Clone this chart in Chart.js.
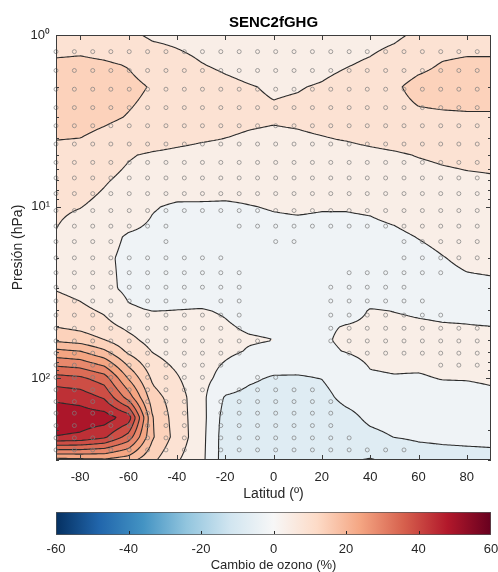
<!DOCTYPE html>
<html>
<head>
<meta charset="utf-8">
<title>SENC2fGHG</title>
<script src="https://cdn.jsdelivr.net/npm/chart.js@4.4.1/dist/chart.umd.min.js"></script>
<style>
  html, body { margin: 0; padding: 0; background: #fff; overflow: hidden; }
  canvas { display: block; }
</style>
</head>
<body>
<canvas id="ozoneChart" width="498" height="508"></canvas>
<canvas id="colorBar" width="498" height="64"></canvas>
<script>
const chartTitle = 'SENC2fGHG';

// campo de cambio de ozono (%) : filas = niveles de presion, columnas = latitudes
const gridLats = [-90, -80, -70, -60, -50, -40, -30, -20, -10, 0, 10, 20, 30, 40, 50, 60, 70, 80, 90];
const gridLevels = [1, 1.5, 2, 3, 4, 5, 7, 10, 15, 20, 30, 40, 50, 60, 70, 100, 130, 170, 220, 300];
const ozoneChange = [
  [7.5, 7.8, 7, 6, 4.2, 3.8, 3.2, 3, 2.8, 2.5, 2.6, 2.8, 3, 3.5, 4.2, 5.8, 7.3, 7.5, 7.5],
  [10.8, 11, 10.6, 9.8, 8, 6.5, 5.2, 4.3, 3.5, 3, 3.3, 4, 4.8, 5.6, 7, 8.8, 10.4, 11, 11],
  [12.5, 12.5, 12, 11, 9.7, 8.3, 7, 6, 5.2, 4.6, 4.8, 5.3, 6.3, 7.6, 9.3, 11.5, 12, 12.3, 12.3],
  [11.8, 11.5, 10.8, 9.8, 8.8, 7.8, 7, 6.3, 5.8, 5.5, 5.8, 6.4, 7.1, 7.8, 8.4, 9.2, 9.4, 9.5, 9.5],
  [10.2, 10, 9, 8, 7, 6.2, 5.5, 5, 4.5, 4.2, 4.4, 4.8, 5.3, 6, 6.6, 7.2, 7.6, 7.8, 7.8],
  [8.5, 7.8, 6.7, 5.3, 4.5, 4, 3.6, 3.3, 3, 2.8, 2.9, 3.2, 3.5, 4, 4.5, 5.2, 5.7, 6, 6.2],
  [7.3, 6.4, 5.3, 4.2, 3.4, 2.8, 2.2, 1.8, 1.5, 1.4, 1.4, 1.5, 1.8, 2.2, 2.8, 3.4, 4, 4.4, 4.6],
  [5.5, 5.1, 4.2, 3, 0.3, -0.6, -0.5, -0.5, -0.1, 0.2, 0.4, 0.2, 0.2, 0.4, 1, 1.8, 2.3, 2.6, 2.7],
  [4.85, 3.5, 1.5, -0.5, -1, -1.3, -1.4, -1.4, -1.2, -1, -1, -1, -1, -0.9, -0.6, 0.1, 0.7, 1, 1.1],
  [4.2, 3, 0.8, -1, -1.5, -1.8, -2, -2, -1.8, -1.6, -1.6, -1.6, -1.6, -1.5, -1.2, -0.8, -0.1, 0.5, 0.7],
  [4.7, 3.5, 1.2, -1, -1.7, -2, -2.2, -2.3, -2.2, -2, -2, -2, -2, -1.8, -1.5, -1.2, -0.9, -0.6, -0.5],
  [7.3, 6, 4.3, 0.5, -0.2, 0, 0.15, -0.3, -1.2, -1.4, -1.5, -1.4, -0.8, 0.1, -0.05, -0.2, -0.3, -0.3, -0.4],
  [9.8, 8.6, 6.5, 4, 2.3, 1.5, 1, 0.3, -0.4, -0.6, -0.5, -0.3, 0.1, 0.3, 0.3, 0.2, 0.1, 0.05, 0],
  [14, 12.8, 10.1, 6.3, 3.3, 2, 1.2, 0.7, 0.3, 0.02, -0.4, -0.3, 0.4, 0.7, 0.8, 0.8, 0.7, 0.6, 0.5],
  [21.5, 20.3, 16, 9, 4.8, 2.8, 1.6, 0.8, -0.3, -0.8, -0.7, -0.5, 0.1, 0.8, 1.1, 1.2, 1.2, 1.1, 1],
  [37, 36, 32.5, 19.5, 9, 5.5, 1.5, -1.5, -4.2, -5.5, -5.6, -4.9, -2.5, -0.4, -0.2, -0.3, 0.15, 0.2, 0.5],
  [44, 43, 39.5, 28, 12, 7.5, 1.5, -5.5, -6.5, -7, -7, -6.5, -3.7, -2.8, -2.2, -1.8, -1.5, -1.3, -0.8],
  [48.5, 48, 47.5, 43, 15, 7.5, 2, -7, -8, -8.5, -8.5, -8, -6.5, -4, -3.2, -2.6, -2.2, -2, -1.8],
  [44.8, 44, 41, 33, 15.5, 8, 1.8, -7.5, -8.3, -8.6, -8.7, -8.5, -7.6, -6.2, -4.9, -4.3, -4, -3.8, -3.7],
  [18, 18.5, 19, 17, 11, 5.5, 1.5, -7.5, -8, -8.5, -8.7, -9, -9.5, -10.3, -9.3, -7.5, -7, -6.8, -6.5]
];
const contourLevels = [-10, -5, 0, 5, 10, 15, 20, 25, 30, 35, 40, 45];
const bandWidth = 5;

// puntos de significancia
const stippleLats = [-90, -82.4, -74.8, -67.3, -59.7, -52.1, -44.5, -36.9, -29.4, -21.8, -14.2, -6.6,
  0.9, 8.5, 16.1, 23.7, 31.3, 38.8, 46.4, 54, 61.6, 69.2, 76.7, 84.3];
const stippleLevels = [1.25, 1.61, 2.07, 2.65, 3.38, 4.32, 5.53, 6.81, 8.4, 10.55, 13.0, 16.0, 19.9, 24.3,
  29.5, 35.5, 42.9, 51.2, 60.7, 71.5, 84, 99, 117, 137, 160, 189, 223, 262];
const stippleMask = [
  '111111111111111111111111',
  '111111111111111111111111',
  '111111111111111111111111',
  '111111111111111111111111',
  '111111111111111111111111',
  '111111111111111111111111',
  '111111111111111111111111',
  '111111111111111111111111',
  '111111111111111111111111',
  '111111111111111111111111',
  '111111100011111111111111',
  '111100100000110000011111',
  '111111111100000000011111',
  '111111111110000011111100',
  '111111111110000111110000',
  '111111110110000111111000',
  '111111111110000111111100',
  '111111111110000111111111',
  '111111111111000111111111',
  '111111111110000011111111',
  '111111111100000000000111',
  '111111111001100000000000',
  '111111111011111000000000',
  '111111110111111100000000',
  '111111110111111100000000',
  '111111110111111100000000',
  '111111110111111110000000',
  '111111110111111111110000'
];

const xTickValues = [-80, -60, -40, -20, 0, 20, 40, 60, 80];
const yTickValues = [1, 10, 100];
const yTickLabels = { 1: '10\u2070', 10: '10\u00B9', 100: '10\u00B2' };
const cbMin = -60, cbMax = 60;
const cbLabelValues = [-60, -40, -20, 0, 20, 40, 60];
const cbTickValues = [-40, -20, 0, 20, 40];

// RdBu invertido (azul -> rojo)
const rdbuColors = ['#053061', '#2166ac', '#4393c3', '#92c5de', '#d1e5f0', '#f7f7f7',
  '#fddbc7', '#f4a582', '#d6604d', '#b2182b', '#67001f'];

Chart.defaults.font.family = '"Liberation Sans", Arial, Helvetica, sans-serif';
Chart.defaults.color = '#262626';

function hexToRgb(h) {
  return [parseInt(h.slice(1, 3), 16), parseInt(h.slice(3, 5), 16), parseInt(h.slice(5, 7), 16)];
}
const rdbuRgb = rdbuColors.map(hexToRgb);

function rdbuAt(v) {
  let t = (v - cbMin) / (cbMax - cbMin) * (rdbuRgb.length - 1);
  t = Math.max(0, Math.min(rdbuRgb.length - 1, t));
  const i = Math.min(Math.floor(t), rdbuRgb.length - 2);
  const f = t - i;
  const a = rdbuRgb[i], b = rdbuRgb[i + 1];
  return [0, 1, 2].map(k => Math.round(a[k] + (b[k] - a[k]) * f));
}

const bandCache = new Map();
function bandColor(v) {
  const lo = Math.floor(v / bandWidth) * bandWidth;
  if (!bandCache.has(lo)) {
    const ref = lo >= 0 ? lo + 4 : lo + 2.5;
    bandCache.set(lo, rdbuAt(ref));
  }
  return bandCache.get(lo);
}

const logLevels = gridLevels.map(Math.log10);
function findCell(arr, v) {
  let i = 0;
  while (i < arr.length - 2 && v > arr[i + 1]) i++;
  return i;
}
function ozoneAt(lat, p) {
  const lp = Math.log10(p);
  const i = findCell(gridLats, lat), j = findCell(logLevels, lp);
  const tx = Math.max(0, Math.min(1, (lat - gridLats[i]) / (gridLats[i + 1] - gridLats[i])));
  const ty = Math.max(0, Math.min(1, (lp - logLevels[j]) / (logLevels[j + 1] - logLevels[j])));
  const r0 = ozoneChange[j], r1 = ozoneChange[j + 1];
  return (1 - ty) * ((1 - tx) * r0[i] + tx * r0[i + 1]) + ty * ((1 - tx) * r1[i] + tx * r1[i + 1]);
}

// relleno por bandas + lineas de contorno (marching squares sobre el muestreo)
const contourPlugin = {
  id: 'contourFill',
  beforeDatasetsDraw(chart) {
    const { ctx, chartArea: a, scales: { x, y } } = chart;
    const left = Math.round(a.left), top = Math.round(a.top);
    const w = Math.round(a.right) - left, h = Math.round(a.bottom) - top;

    const colLat = [], rowP = [];
    for (let i = 0; i < w; i++) colLat.push(x.getValueForPixel(left + i + 0.5));
    for (let j = 0; j < h; j++) rowP.push(y.getValueForPixel(top + j + 0.5));

    const off = document.createElement('canvas');
    off.width = w; off.height = h;
    const octx = off.getContext('2d');
    const img = octx.createImageData(w, h);
    for (let j = 0; j < h; j++) {
      for (let i = 0; i < w; i++) {
        const c = bandColor(ozoneAt(colLat[i], rowP[j]));
        const k = (j * w + i) * 4;
        img.data[k] = c[0]; img.data[k + 1] = c[1]; img.data[k + 2] = c[2]; img.data[k + 3] = 255;
      }
    }
    octx.putImageData(img, 0, 0);
    ctx.drawImage(off, left, top);

    const step = 2;
    const xs = [], ys = [];
    for (let px = a.left; px < a.right; px += step) xs.push(px);
    xs.push(a.right);
    for (let py = a.top; py < a.bottom; py += step) ys.push(py);
    ys.push(a.bottom);
    const nx = xs.length, ny = ys.length;
    const S = new Float32Array(nx * ny);
    const sLat = xs.map(px => x.getValueForPixel(px));
    const sP = ys.map(py => y.getValueForPixel(py));
    for (let j = 0; j < ny; j++) for (let i = 0; i < nx; i++) S[j * nx + i] = ozoneAt(sLat[i], sP[j]);

    ctx.save();
    ctx.beginPath();
    ctx.rect(a.left, a.top, a.right - a.left, a.bottom - a.top);
    ctx.clip();
    ctx.strokeStyle = '#2b2b2b';
    ctx.lineWidth = 1.1;
    ctx.lineCap = 'round';
    for (const lv of contourLevels) {
      ctx.beginPath();
      for (let j = 0; j < ny - 1; j++) {
        for (let i = 0; i < nx - 1; i++) {
          const va = S[j * nx + i], vb = S[j * nx + i + 1];
          const vc = S[(j + 1) * nx + i + 1], vd = S[(j + 1) * nx + i];
          const pts = [];
          if ((va >= lv) !== (vb >= lv)) pts.push([xs[i] + (lv - va) / (vb - va) * (xs[i + 1] - xs[i]), ys[j]]);
          if ((vb >= lv) !== (vc >= lv)) pts.push([xs[i + 1], ys[j] + (lv - vb) / (vc - vb) * (ys[j + 1] - ys[j])]);
          if ((vd >= lv) !== (vc >= lv)) pts.push([xs[i] + (lv - vd) / (vc - vd) * (xs[i + 1] - xs[i]), ys[j + 1]]);
          if ((va >= lv) !== (vd >= lv)) pts.push([xs[i], ys[j] + (lv - va) / (vd - va) * (ys[j + 1] - ys[j])]);
          if (pts.length === 2) {
            ctx.moveTo(pts[0][0], pts[0][1]); ctx.lineTo(pts[1][0], pts[1][1]);
          } else if (pts.length === 4) {
            const centerHigh = (va + vb + vc + vd) / 4 >= lv;
            const pairs = ((va >= lv) === centerHigh) ? [[0, 1], [2, 3]] : [[0, 3], [1, 2]];
            for (const [m, n] of pairs) {
              ctx.moveTo(pts[m][0], pts[m][1]); ctx.lineTo(pts[n][0], pts[n][1]);
            }
          }
        }
      }
      ctx.stroke();
    }
    ctx.restore();
  },
  afterDatasetsDraw(chart) {
    const { ctx, chartArea: a, scales: { x, y } } = chart;
    ctx.save();
    ctx.strokeStyle = '#3c3c3c';
    ctx.lineWidth = 1;
    ctx.strokeRect(a.left + 0.5, a.top + 0.5, a.right - a.left - 1, a.bottom - a.top - 1);
    ctx.beginPath();
    for (const v of xTickValues) {
      const px = Math.round(x.getPixelForValue(v)) + 0.5;
      ctx.moveTo(px, a.bottom); ctx.lineTo(px, a.bottom - 5);
      ctx.moveTo(px, a.top); ctx.lineTo(px, a.top + 5);
    }
    for (const d of yTickValues) {
      for (let m = 1; m <= 9; m++) {
        const v = m * d;
        if (v > y.max) break;
        const len = m === 1 ? 5 : 3;
        const py = Math.round(y.getPixelForValue(v)) + 0.5;
        ctx.moveTo(a.left, py); ctx.lineTo(a.left + len, py);
        ctx.moveTo(a.right, py); ctx.lineTo(a.right - len, py);
      }
    }
    ctx.stroke();
    ctx.restore();
  }
};

const stipplePoints = [];
stippleLevels.forEach((p, j) => {
  [...stippleMask[j]].forEach((flag, i) => {
    if (flag === '1') stipplePoints.push({ x: stippleLats[i], y: p });
  });
});

new Chart(document.getElementById('ozoneChart'), {
  type: 'scatter',
  data: {
    datasets: [{
      label: 'significativo',
      data: stipplePoints,
      pointRadius: 2,
      pointHoverRadius: 2,
      pointBorderWidth: 1,
      borderColor: 'rgba(125,125,125,0.7)',
      backgroundColor: 'rgba(0,0,0,0)',
      clip: false
    }]
  },
  options: {
    responsive: false,
    animation: false,
    events: [],
    layout: { padding: { left: 0, right: 7, top: 0, bottom: 0 } },
    plugins: {
      legend: { display: false },
      tooltip: { enabled: false },
      title: {
        display: true,
        text: chartTitle,
        fullSize: false,
        color: '#000',
        font: { size: 15, weight: 'bold' },
        padding: { top: 13.5, bottom: 3.5 }
      }
    },
    scales: {
      x: {
        type: 'linear',
        min: -90,
        max: 90,
        afterBuildTicks: s => { s.ticks = xTickValues.map(v => ({ value: v })); },
        afterFit: s => { s.height = 48; s.paddingLeft = 0; s.paddingRight = 0; },
        grid: { display: false, drawTicks: false },
        border: { display: false },
        ticks: { font: { size: 13 }, padding: 10, maxRotation: 0, autoSkip: false },
        title: { display: true, text: 'Latitud (º)', font: { size: 14 }, padding: { top: 0, bottom: 5 } }
      },
      y: {
        type: 'logarithmic',
        reverse: true,
        min: 1,
        max: 300,
        afterBuildTicks: s => { s.ticks = yTickValues.map(v => ({ value: v })); },
        afterFit: s => { s.width = 56; },
        grid: { display: false, drawTicks: false },
        border: { display: false },
        ticks: { font: { size: 13 }, padding: 6, autoSkip: false, callback: v => yTickLabels[v] || '' },
        title: { display: true, text: 'Presión (hPa)', font: { size: 14 }, padding: { top: 10, bottom: 0 } }
      }
    }
  },
  plugins: [contourPlugin]
});

function colorbarGradient(chart) {
  if (!chart.chartArea) return '#ffffff';
  const xs = chart.scales.x;
  const g = chart.ctx.createLinearGradient(xs.getPixelForValue(cbMin), 0, xs.getPixelForValue(cbMax), 0);
  rdbuColors.forEach((c, i) => g.addColorStop(i / (rdbuColors.length - 1), c));
  return g;
}

const colorbarTicks = {
  id: 'colorbarTicks',
  afterDatasetsDraw(chart) {
    const { ctx, chartArea: a, scales: { x } } = chart;
    ctx.save();
    ctx.strokeStyle = '#262626';
    ctx.lineWidth = 1;
    ctx.beginPath();
    for (const v of cbTickValues) {
      const px = Math.round(x.getPixelForValue(v)) + 0.5;
      ctx.moveTo(px, a.bottom - 1); ctx.lineTo(px, a.bottom - 4);
    }
    ctx.stroke();
    ctx.restore();
  }
};

new Chart(document.getElementById('colorBar'), {
  type: 'bar',
  data: {
    labels: ['cb'],
    datasets: [{
      data: [[cbMin, cbMax]],
      backgroundColor: c => colorbarGradient(c.chart),
      borderColor: '#555555',
      borderWidth: 1,
      borderSkipped: false,
      barPercentage: 1,
      categoryPercentage: 1
    }]
  },
  options: {
    indexAxis: 'y',
    responsive: false,
    animation: false,
    events: [],
    layout: { padding: { left: 56, right: 7, top: 4, bottom: 0 } },
    plugins: { legend: { display: false }, tooltip: { enabled: false } },
    scales: {
      x: {
        type: 'linear',
        min: cbMin,
        max: cbMax,
        afterBuildTicks: s => { s.ticks = cbLabelValues.map(v => ({ value: v })); },
        afterFit: s => { s.height = 37; s.paddingLeft = 0; s.paddingRight = 0; },
        grid: { display: false, drawTicks: false },
        border: { display: false },
        ticks: { font: { size: 13 }, padding: 7, maxRotation: 0, autoSkip: false },
        title: { display: true, text: 'Cambio de ozono (%)', font: { size: 13, lineHeight: 1 }, padding: { top: 0, bottom: 0.5 } }
      },
      y: { display: false }
    }
  },
  plugins: [colorbarTicks]
});
</script>
</body>
</html>
